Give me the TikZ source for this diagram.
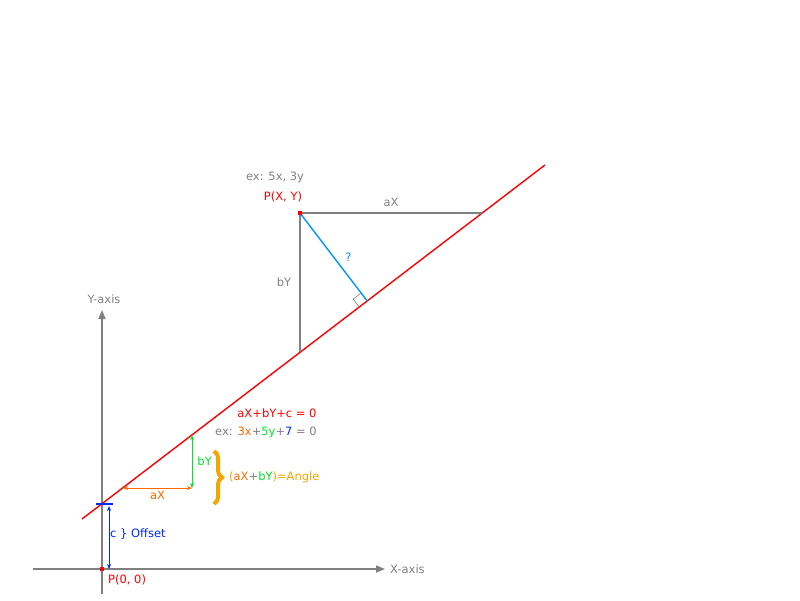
\documentclass[tikz,border=0pt]{standalone}
\usepackage{fontspec}
\setmainfont{DejaVu Sans}
\usetikzlibrary{arrows.meta, positioning, calc, decorations.pathreplacing}
\definecolor{axisgray}{RGB}{128,128,128}
\definecolor{linered}{RGB}{255,0,0}
\definecolor{dimorange}{RGB}{255,106,0}
\definecolor{dimgreen}{RGB}{0,230,40}
\definecolor{dimblue}{RGB}{0,38,255}
\definecolor{skyblue}{RGB}{0,148,255}
\definecolor{gold}{RGB}{245,165,0}
\tikzstyle{lbl} = [inner sep=0pt, font=\fontsize{11.5}{13}\selectfont]
\tikzstyle{axis} = [draw=axisgray, line width=1.6pt, -{Triangle[length=9pt, width=7pt]}]
\tikzstyle{guide} = [draw=axisgray, line width=1.6pt]
\tikzstyle{dimarrow} = [line width=0.9pt, {Stealth[length=5pt, width=4pt]}-{Stealth[length=5pt, width=4pt]}]
\tikzstyle{dot} = [fill=linered, inner sep=0pt, minimum size=4.5pt]

\begin{document}
\begin{tikzpicture}[x=1pt, y=-1pt]
        \useasboundingbox (0,0) rectangle (800,600);
        
        % Key points
        \coordinate (O) at (102,569);
        \coordinate (L1) at (82,519);
        \coordinate (L2) at (545,165);
        \coordinate (P) at (300,213);
        \coordinate (Px) at (482,213);
        \coordinate (Py) at (300,352);
        \coordinate (foot) at ($(L1)!(P)!(L2)$);
        \coordinate (ax1) at (123,488);
        \coordinate (ax2) at (192,488);
        \coordinate (by1) at (192,435);
        
        % Axes
        \coordinate (xs) at (33,569);
        \coordinate (xe) at (385,569);
        \coordinate (ys) at (102,594);
        \coordinate (ye) at (102,310);
        \draw [axis] (xs) -- (xe);
        \draw [axis] (ys) -- (ye);
        \node (xlbl) [lbl, text=axisgray, right=5pt of xe] {X-axis};
        \node (ylbl) [lbl, text=axisgray] at (104,299) {Y-axis};
        
        % The line
        \draw [linered, line width=1.4pt] (L1) -- (L2);
        
        % Point P(X, Y) and its legs
        \draw [guide] (P) -- (Px) node[lbl, text=axisgray, midway, above=6pt] {aX};
        \draw [guide] (P) -- (Py) node[lbl, text=axisgray, midway, left=8pt] {bY};
        \draw [skyblue, line width=1.4pt] (P) -- (foot) node[lbl, midway, right=11pt] {?};
        \coordinate (sq1) at ($(foot)!10pt!(P)$);
        \coordinate (sq2) at ($(foot)!10pt!(L1)$);
        \draw [axisgray, line width=0.6pt] (sq1) -- ($(sq1)+(sq2)-(foot)$) -- (sq2);
        \node (pxy) [dot] at (P) {};
        \node (pxylbl) [lbl, text=linered] at (283,197) {P(X, Y)};
        \node (pxyex) [lbl, text=axisgray] at (275,177) {ex: 5x, 3y};
        
        % Equation
        \node (eq) [lbl, text=linered] at (277,413) {aX+bY+c = 0};
        \node (eqex) [lbl, text=axisgray] at (266,432) {ex: \textcolor{dimorange}{3x}+\textcolor{dimgreen}{5y}+\textcolor{dimblue}{7} = 0};
        
        % Slope parts
        \draw [dimarrow, dimorange] (ax1) -- (ax2) node[lbl, midway, below=3pt] {aX};
        \draw [dimarrow, dimgreen] (by1) -- (ax2) node[lbl, midway, right=5pt] {bY};
        \draw [gold, line width=4pt, decorate, decoration={brace, amplitude=8pt}] (214,451) -- (214,504);
        \node (angle) [lbl, text=gold, anchor=west] at (229,477) {(\textcolor{dimorange}{aX}\textcolor{axisgray}{+}\textcolor{dimgreen}{bY})=Angle};
        
        % Offset
        \draw [dimblue, line width=1.8pt] (96,504) -- (113,504);
        \draw [dimarrow, dimblue] (109,506) -- (109,569);
        \node (off) [lbl, text=dimblue, anchor=west] at (110,534) {c \} Offset};
        
        % Origin
        \node (orig) [dot] at (O) {};
        \node (origlbl) [lbl, text=linered, anchor=west] at (108,580) {P(0, 0)};
        
    \end{tikzpicture}
\end{document}
